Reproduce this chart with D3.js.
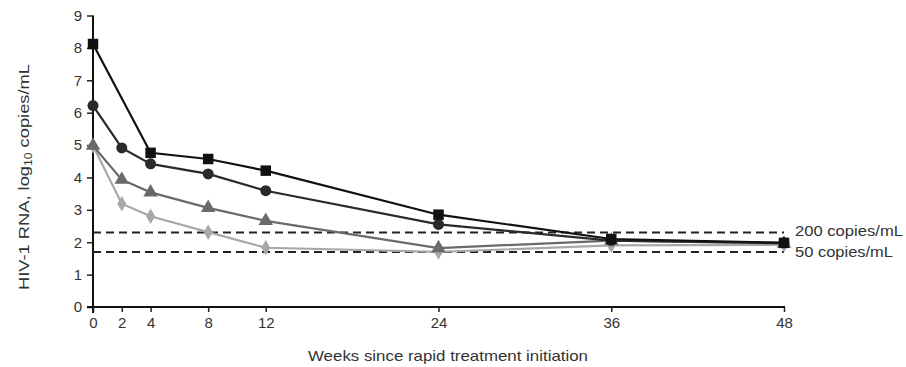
<!DOCTYPE html>
<html><head><meta charset="utf-8">
<script src="https://cdn.jsdelivr.net/npm/d3@7/dist/d3.min.js"></script>
<style>
html,body{margin:0;padding:0;background:#fff;}
svg text{font-family:"Liberation Sans Narrow","Arial Narrow","Liberation Sans",sans-serif;fill:#333;}
</style></head>
<body><svg id="c" width="906" height="367"></svg>
<script>
const weeks = [0, 2, 4, 8, 12, 24, 36, 48];
const squareWeeks = [0, 4, 8, 12, 24, 36, 48];
const squareVals = [8.12, 4.76, 4.57, 4.21, 2.85, 2.1, 1.98];
const circleVals = [6.22, 4.91, 4.42, 4.11, 3.59, 2.55, 2.05, 1.98];
const triangleVals = [4.98, 3.93, 3.54, 3.06, 2.66, 1.82, 2.05, 1.96];
const diamondVals = [4.98, 3.19, 2.8, 2.31, 1.83, 1.7, 1.9, 1.92];
const yTicks = [0,1,2,3,4,5,6,7,8,9];
const refLines = [{v: Math.log10(200), label: "200 copies/mL"}, {v: Math.log10(50), label: "50 copies/mL"}];

const svg = d3.select("#c");
const x = d3.scaleLinear().domain([0,48]).range([93,784]);
const y = d3.scaleLinear().domain([0,9]).range([307,15.5]);

// axes
const yAxis = svg.append("g").attr("transform","translate(93,0)")
  .call(d3.axisLeft(y).tickValues(yTicks).tickSize(6).tickPadding(5));
yAxis.select(".domain").remove();
yAxis.selectAll("line").attr("stroke","#222").attr("stroke-width",1.5);
yAxis.selectAll("text").style("font-size","15px").attr("fill","#444");
svg.append("line").attr("x1",93).attr("x2",93).attr("y1",y(9)).attr("y2",313)
  .attr("stroke","#111").attr("stroke-width",2);

const xAxis = svg.append("g").attr("transform","translate(0,307)")
  .call(d3.axisBottom(x).tickValues(weeks).tickSize(5).tickPadding(5));
xAxis.select(".domain").remove();
xAxis.selectAll("line").attr("stroke","#222").attr("stroke-width",1.5);
xAxis.selectAll("text").style("font-size","15px").attr("fill","#444");
svg.append("line").attr("x1",87).attr("x2",x(48)+1).attr("y1",307).attr("y2",307)
  .attr("stroke","#111").attr("stroke-width",2);

// reference lines
refLines.forEach((r,i) => {
  svg.append("line").attr("x1",x(0)).attr("x2",x(48)).attr("y1",y(r.v)).attr("y2",y(r.v))
    .attr("stroke","#222").attr("stroke-width",2).attr("stroke-dasharray","8,5");
  svg.append("text").attr("x",795).attr("y",y(r.v)+(i===0?4:5)).text(r.label)
    .attr("textLength", i===0?108:98).attr("lengthAdjust","spacingAndGlyphs")
    .style("font-size","15px").attr("fill","#333");
});

const line = d3.line().x(d=>x(d[0])).y(d=>y(d[1]));
function series(ws, vals, color, shape, size){
  const pts = ws.map((w,i)=>[w, vals[i]]);
  svg.append("path").datum(pts).attr("d",line).attr("fill","none")
    .attr("stroke",color).attr("stroke-width",2.2);
  svg.append("g").selectAll("path").data(pts).join("path")
    .attr("transform",d=>`translate(${x(d[0])},${y(d[1])})`)
    .attr("d", d3.symbol().type(shape).size(size)).attr("fill",color);
}
series(weeks, diamondVals, "#a8a8a8", d3.symbolDiamond, 70);
series(weeks, triangleVals, "#6a6a6a", d3.symbolTriangle, 90);
series(weeks, circleVals, "#2a2a2a", d3.symbolCircle, 95);
series(squareWeeks, squareVals, "#111", d3.symbolSquare, 110);

// titles
svg.append("text").attr("transform","translate(29,177) rotate(-90)").attr("text-anchor","middle")
  .attr("textLength",226).attr("lengthAdjust","spacingAndGlyphs")
  .style("font-size","15px").attr("fill","#333")
  .html('HIV-1 RNA, log<tspan dy="3" style="font-size:10px">10</tspan><tspan dy="-3"> copies/mL</tspan>');
svg.append("text").attr("x",448).attr("y",361).attr("text-anchor","middle")
  .attr("textLength",280).attr("lengthAdjust","spacingAndGlyphs")
  .style("font-size","15px").attr("fill","#333").text("Weeks since rapid treatment initiation");
</script></body></html>
